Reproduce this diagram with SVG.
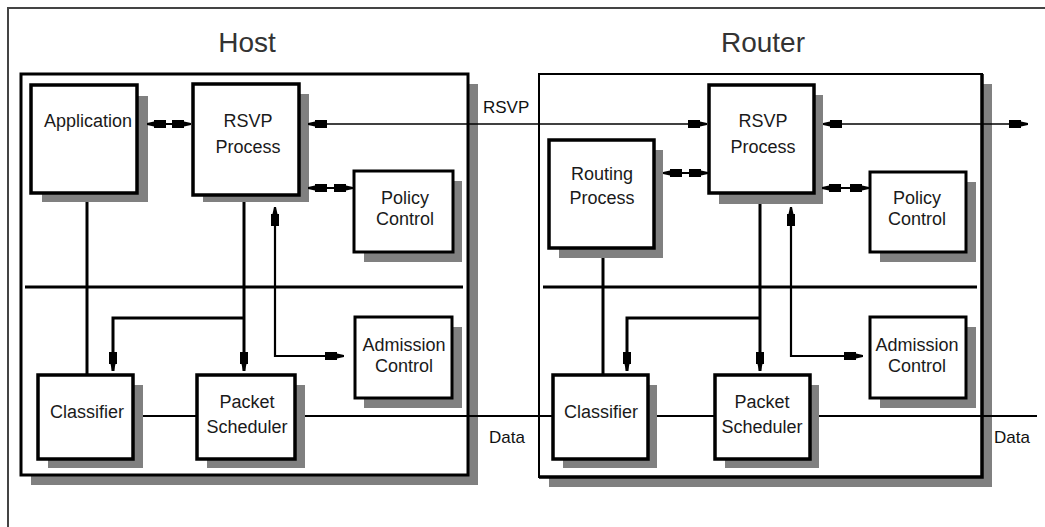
<svg xmlns="http://www.w3.org/2000/svg" width="1045" height="527" viewBox="0 0 1045 527">
<style>
.frame{fill:none;stroke:#444;stroke-width:2}
.panel{fill:#fff;stroke:#000;stroke-width:3}
.shadow{fill:#808080}
.box{fill:#fff;stroke:#000;stroke-width:3.5}
.sbox{fill:#fff;stroke:#000;stroke-width:3}
.lbl{font-family:"Liberation Sans",Arial,sans-serif;font-size:18px;fill:#1a1a1a;text-anchor:middle}
.title{font-family:"Liberation Sans",Arial,sans-serif;font-size:28px;fill:#333;text-anchor:middle}
.small{font-family:"Liberation Sans",Arial,sans-serif;font-size:17px;fill:#111}
.c{fill:none;stroke:#000}
.thick{stroke-width:3}
.mid{stroke-width:2.2}
.thin{stroke-width:1.5}
</style>
<defs>
<marker id="ah" viewBox="0 0 19 11" markerWidth="19" markerHeight="11" refX="19" refY="5.5" orient="auto-start-reverse" markerUnits="userSpaceOnUse">
<path d="M0,1.5 H12 V3 L19,4.6 V6.4 L12,8 V9.5 H0 Z" fill="#000"/>
</marker>
</defs>
<path class="frame" d="M8,527 V8 H1045"/>
<g id="host">
<rect class="shadow" x="31" y="84" width="447" height="401"/>
<rect class="panel" x="21" y="74" width="447" height="401"/>
<text class="title" x="247" y="52">Host</text>
</g>
<g id="router">
<rect class="shadow" x="549" y="84" width="443" height="403"/>
<rect class="panel" x="539" y="74" width="443" height="403" style="stroke-width:2"/>
<path d="M982,74 V477 H539" fill="none" stroke="#000" stroke-width="3.5"/>
<text class="title" x="763" y="52">Router</text>
</g>
<g id="host-application">
<rect class="shadow" x="42" y="96" width="106" height="106"/>
<rect class="box" x="31" y="85" width="106" height="108"/>
<text class="lbl" x="88" y="127">Application</text>
</g>
<g id="host-rsvp">
<rect class="shadow" x="203" y="94" width="106" height="108"/>
<rect class="box" x="193" y="84" width="106" height="111"/>
<text class="lbl" x="248" y="127">RSVP</text>
<text class="lbl" x="248" y="153">Process</text>
</g>
<g id="host-policy">
<rect class="shadow" x="364" y="181" width="98" height="81"/>
<rect class="sbox" x="354" y="171" width="99" height="81"/>
<text class="lbl" x="405" y="204">Policy</text>
<text class="lbl" x="405" y="225">Control</text>
</g>
<g id="host-admission">
<rect class="shadow" x="364" y="327" width="98" height="81"/>
<rect class="sbox" x="355" y="317" width="97" height="81"/>
<text class="lbl" x="404" y="351">Admission</text>
<text class="lbl" x="404" y="372">Control</text>
</g>
<g id="host-classifier">
<rect class="shadow" x="48" y="385" width="95" height="83"/>
<rect class="box" x="38" y="375" width="95" height="84"/>
<text class="lbl" x="87" y="418">Classifier</text>
</g>
<g id="host-scheduler">
<rect class="shadow" x="207" y="385" width="98" height="83"/>
<rect class="box" x="197" y="375" width="98" height="84"/>
<text class="lbl" x="247" y="408">Packet</text>
<text class="lbl" x="247" y="433">Scheduler</text>
</g>
<g id="router-rsvp">
<rect class="shadow" x="719" y="95" width="104" height="109"/>
<rect class="box" x="709" y="85" width="105" height="108"/>
<text class="lbl" x="763" y="127">RSVP</text>
<text class="lbl" x="763" y="153">Process</text>
</g>
<g id="router-routing">
<rect class="shadow" x="559" y="150" width="104" height="108"/>
<rect class="box" x="549" y="140" width="105" height="108"/>
<text class="lbl" x="602" y="180">Routing</text>
<text class="lbl" x="602" y="204">Process</text>
</g>
<g id="router-policy">
<rect class="shadow" x="880" y="182" width="96" height="80"/>
<rect class="sbox" x="870" y="172" width="96" height="80"/>
<text class="lbl" x="917" y="204">Policy</text>
<text class="lbl" x="917" y="225">Control</text>
</g>
<g id="router-admission">
<rect class="shadow" x="880" y="327" width="96" height="81"/>
<rect class="sbox" x="870" y="317" width="96" height="81"/>
<text class="lbl" x="917" y="351">Admission</text>
<text class="lbl" x="917" y="372">Control</text>
</g>
<g id="router-classifier">
<rect class="shadow" x="563" y="385" width="94" height="83"/>
<rect class="box" x="553" y="375" width="95" height="84"/>
<text class="lbl" x="601" y="418">Classifier</text>
</g>
<g id="router-scheduler">
<rect class="shadow" x="725" y="385" width="94" height="83"/>
<rect class="box" x="715" y="375" width="95" height="84"/>
<text class="lbl" x="762" y="408">Packet</text>
<text class="lbl" x="762" y="433">Scheduler</text>
</g>
<g id="connectors">
<path class="c thick" d="M25,287 H463"/>
<path class="c thick" d="M543,287 H977"/>
<path class="c mid" d="M147,124 H191" marker-start="url(#ah)" marker-end="url(#ah)"/>
<path class="c thin" d="M308,124 H707" marker-start="url(#ah)" marker-end="url(#ah)"/>
<path class="c mid" d="M308,188 H353" marker-start="url(#ah)" marker-end="url(#ah)"/>
<path class="c thick" d="M87,202 V375"/>
<path class="c thick" d="M244,202 V371" marker-end="url(#ah)"/>
<path class="c thick" d="M244,318 H113 V371" marker-end="url(#ah)"/>
<path class="c mid" d="M275,207 V356 H344" marker-start="url(#ah)" marker-end="url(#ah)"/>
<path class="c mid" d="M143,416 H197"/>
<path class="c mid" d="M305,416 H553"/>
<path class="c mid" d="M657,416 H715"/>
<path class="c mid" d="M819,416 H1037"/>
<path class="c mid" d="M663,173 H708" marker-start="url(#ah)" marker-end="url(#ah)"/>
<path class="c thin" d="M823,124 H1028" marker-start="url(#ah)" marker-end="url(#ah)"/>
<path class="c mid" d="M822,188 H869" marker-start="url(#ah)" marker-end="url(#ah)"/>
<path class="c thick" d="M603,258 V375"/>
<path class="c thick" d="M760,204 V371" marker-end="url(#ah)"/>
<path class="c thick" d="M760,318 H627 V371" marker-end="url(#ah)"/>
<path class="c mid" d="M791,207 V356 H863" marker-start="url(#ah)" marker-end="url(#ah)"/>
<text class="small" x="483" y="113">RSVP</text>
<text class="small" x="489" y="443">Data</text>
<text class="small" x="994" y="443">Data</text>
</g>
</svg>
